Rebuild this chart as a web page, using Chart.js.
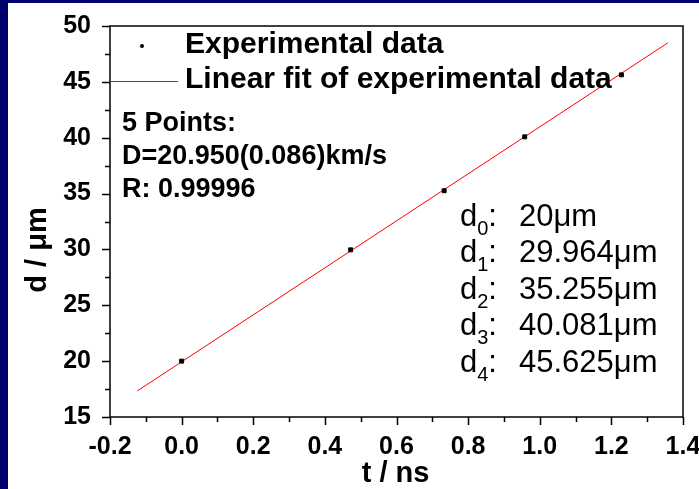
<!DOCTYPE html>
<html>
<head>
<meta charset="utf-8">
<script src="https://cdn.jsdelivr.net/npm/chart.js@4.4.1/dist/chart.umd.min.js"></script>
<style>
  html, body { margin: 0; padding: 0; background: #fff; }
  canvas { display: block; }
</style>
</head>
<body>
<canvas id="js-canvas-fit" width="699" height="489"></canvas>
<script>
// measured points
const times = [0, 0.472, 0.733, 0.958, 1.228];
const distances = [20, 29.964, 35.255, 40.081, 45.625];
// ends of the fitted line
const fitTimes = [-0.124, 1.358];
const fitDistances = [17.33, 48.5];
// text in the plot
const seriesNames = ['Experimental data', 'Linear fit of experimental data'];
const fitNotes = ['5 Points:', 'D=20.950(0.086)km/s', 'R: 0.99996'];
const xTitle = 't / ns';
const yTitle = 'd / \u03bcm';

const FONT = '"Liberation Sans", Arial, sans-serif';
const NAVY = '#000070';

const toPoints = (xs, ys) => xs.map((x, i) => ({ x, y: ys[i] }));

const decor = {
  id: 'decor',
  beforeDraw(chart) {
    const c = chart.ctx;
    c.save();
    c.fillStyle = '#fff';
    c.fillRect(0, 0, chart.width, chart.height);
    c.fillStyle = NAVY;
    c.fillRect(0, 0, chart.width, 3);
    c.fillRect(0, 0, 8, chart.height);
    c.restore();
  },
  afterDraw(chart) {
    const c = chart.ctx;
    const { left, right, top, bottom } = chart.chartArea;
    const xs = chart.scales.x, ys = chart.scales.y;
    c.save();
    c.strokeStyle = '#000';
    c.lineWidth = 1.5;
    c.strokeRect(left, top, right - left, bottom - top);

    // tick marks, majors and minors
    c.beginPath();
    for (let v = 15; v <= 50.01; v += 2.5) {
      const y = Math.round(ys.getPixelForValue(v)) + 0.5;
      const len = Math.abs(v % 5) < 0.01 ? 8 : 5;
      c.moveTo(left - len, y); c.lineTo(left, y);
    }
    for (let i = -2; i <= 14; i++) {
      const x = Math.round(xs.getPixelForValue(i / 10)) + 0.5;
      const len = i % 2 === 0 ? 8 : 5;
      c.moveTo(x, bottom); c.lineTo(x, bottom + len);
    }
    c.stroke();

    // axis titles
    c.fillStyle = '#000';
    c.font = 'bold 29px ' + FONT;
    c.textAlign = 'center';
    c.textBaseline = 'middle';
    c.fillText(xTitle, (left + right) / 2 - 1, 474);
    c.save();
    c.translate(38, 250);
    c.rotate(-Math.PI / 2);
    c.fillText(yTitle, 0, 0);
    c.restore();

    // legend
    c.textAlign = 'left';
    c.font = 'bold 30px ' + FONT;
    c.beginPath();
    c.arc(142, 46, 2, 0, Math.PI * 2);
    c.fill();
    c.fillText(seriesNames[0], 185, 45);
    c.strokeStyle = '#ff0000';
    c.lineWidth = 1.2;
    c.beginPath();
    c.moveTo(left, 81.5); c.lineTo(178, 81.5);
    c.stroke();
    c.fillText(seriesNames[1], 185, 80);

    // fit result
    c.font = 'bold 27px ' + FONT;
    fitNotes.forEach((t, i) => c.fillText(t, 122, 124 + i * 33));

    // distances list
    distances.forEach((d, i) => {
      const y = 217 + i * 36.5;
      let x = 460;
      c.font = '31px ' + FONT;
      c.fillText('d', x, y);
      x += c.measureText('d').width;
      c.font = '20px ' + FONT;
      c.fillText(String(i), x, y + 12);
      x += c.measureText(String(i)).width;
      c.font = '31px ' + FONT;
      c.fillText(':', x, y);
      c.fillText(String(d) + '\u03bcm', 519, y);
    });
    c.restore();
  }
};

const ctx = document.getElementById('js-canvas-fit');
new Chart(ctx, {
  type: 'scatter',
  data: {
    datasets: [{
      label: seriesNames[0],
      data: toPoints(times, distances),
      pointStyle: 'rect',
      pointRadius: 2.8,
      backgroundColor: '#000',
      borderColor: '#000',
      borderWidth: 1,
      order: 1
    }, {
      label: seriesNames[1],
      data: toPoints(fitTimes, fitDistances),
      showLine: true,
      borderColor: '#ff0000',
      borderWidth: 1,
      pointRadius: 0,
      order: 2
    }]
  },
  options: {
    responsive: false,
    animation: false,
    layout: { padding: { left: 0, top: 26, right: 16, bottom: 0 } },
    plugins: { legend: { display: false }, tooltip: { enabled: false } },
    scales: {
      x: {
        type: 'linear',
        min: -0.2,
        max: 1.4,
        grid: { display: false },
        border: { display: false },
        afterFit: s => { s.height = 72; s.paddingLeft = 0; s.paddingRight = 0; },
        ticks: {
          stepSize: 0.2,
          padding: 7,
          color: '#000',
          maxRotation: 0,
          font: { family: FONT, size: 25, weight: 'bold' },
          callback: v => (Math.abs(v) < 1e-9 ? 0 : Number(v)).toFixed(1)
        }
      },
      y: {
        min: 15,
        max: 50,
        grid: { display: false },
        border: { display: false },
        afterFit: s => { s.width = 110; s.paddingTop = 0; s.paddingBottom = 0; },
        ticks: {
          stepSize: 5,
          padding: 11,
          color: '#000',
          font: { family: FONT, size: 25, weight: 'bold' }
        }
      }
    }
  },
  plugins: [decor]
});
</script>
</body>
</html>
